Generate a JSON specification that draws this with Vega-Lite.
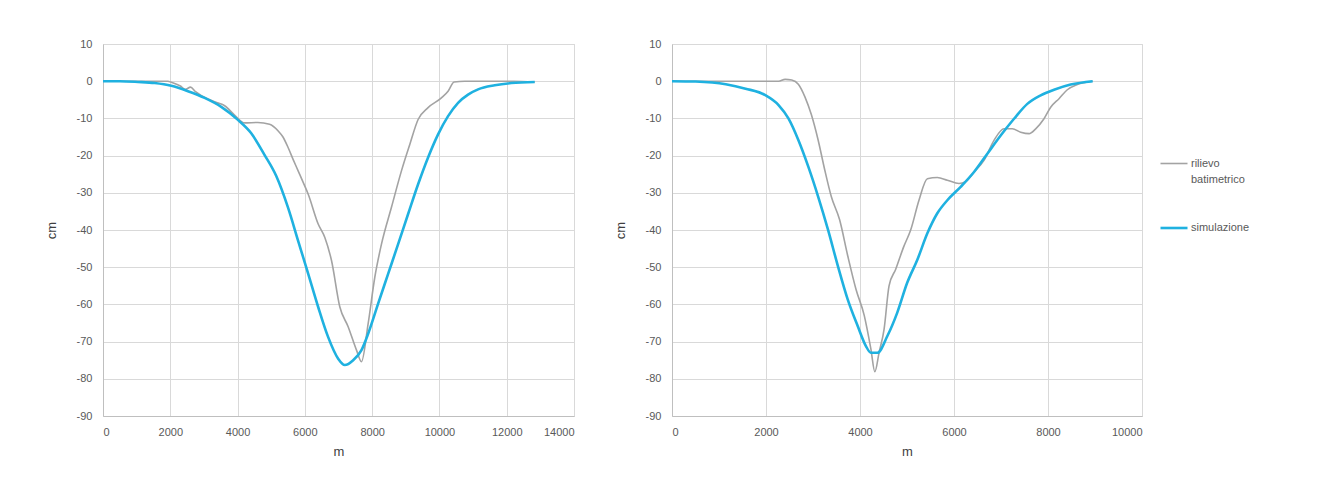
{
  "$schema": "https://vega.github.io/schema/vega-lite/v6.json",
  "background": "white",
  "padding": {"left": 44, "top": 37, "right": 5, "bottom": 5},
  "bounds": "flush",
  "spacing": 98,
  "config": {
    "font": "Liberation Sans",
    "view": {"stroke": "#d9d9d9", "strokeWidth": 1},
    "axis": {
      "labelColor": "#595959",
      "titleColor": "#404040",
      "labelFontSize": 11,
      "titleFontSize": 13,
      "titleFontWeight": "normal",
      "gridColor": "#d9d9d9",
      "domainColor": "#bfbfbf",
      "ticks": false
    },
    "legend": {"labelFontSize": 11, "labelColor": "#595959"}
  },
  "datasets": {
    "left": [
      {"series": "rilievo batimetrico", "x": 0, "y": 0},
      {"series": "rilievo batimetrico", "x": 500, "y": 0},
      {"series": "rilievo batimetrico", "x": 1000, "y": 0},
      {"series": "rilievo batimetrico", "x": 1500, "y": 0},
      {"series": "rilievo batimetrico", "x": 1930, "y": 0},
      {"series": "rilievo batimetrico", "x": 2030, "y": -0.3},
      {"series": "rilievo batimetrico", "x": 2300, "y": -1.3},
      {"series": "rilievo batimetrico", "x": 2450, "y": -2.2},
      {"series": "rilievo batimetrico", "x": 2600, "y": -1.6},
      {"series": "rilievo batimetrico", "x": 2750, "y": -2.8},
      {"series": "rilievo batimetrico", "x": 3120, "y": -4.8},
      {"series": "rilievo batimetrico", "x": 3400, "y": -5.8},
      {"series": "rilievo batimetrico", "x": 3615, "y": -6.6},
      {"series": "rilievo batimetrico", "x": 3910, "y": -9.1},
      {"series": "rilievo batimetrico", "x": 4210, "y": -11.2},
      {"series": "rilievo batimetrico", "x": 4600, "y": -11.1},
      {"series": "rilievo batimetrico", "x": 4950, "y": -11.6},
      {"series": "rilievo batimetrico", "x": 5208, "y": -13.4},
      {"series": "rilievo batimetrico", "x": 5350, "y": -15},
      {"series": "rilievo batimetrico", "x": 5505, "y": -17.9},
      {"series": "rilievo batimetrico", "x": 5650, "y": -21},
      {"series": "rilievo batimetrico", "x": 5800, "y": -24.1},
      {"series": "rilievo batimetrico", "x": 5950, "y": -27.2},
      {"series": "rilievo batimetrico", "x": 6100, "y": -30.4},
      {"series": "rilievo batimetrico", "x": 6396, "y": -38.4},
      {"series": "rilievo batimetrico", "x": 6594, "y": -42},
      {"series": "rilievo batimetrico", "x": 6792, "y": -48.2},
      {"series": "rilievo batimetrico", "x": 7040, "y": -60.7},
      {"series": "rilievo batimetrico", "x": 7287, "y": -66},
      {"series": "rilievo batimetrico", "x": 7535, "y": -72.3},
      {"series": "rilievo batimetrico", "x": 7683, "y": -75.4},
      {"series": "rilievo batimetrico", "x": 7881, "y": -65.2},
      {"series": "rilievo batimetrico", "x": 8079, "y": -52.7},
      {"series": "rilievo batimetrico", "x": 8277, "y": -43.8},
      {"series": "rilievo batimetrico", "x": 8574, "y": -33.9},
      {"series": "rilievo batimetrico", "x": 8871, "y": -24.1},
      {"series": "rilievo batimetrico", "x": 9119, "y": -17},
      {"series": "rilievo batimetrico", "x": 9366, "y": -10.3},
      {"series": "rilievo batimetrico", "x": 9663, "y": -7.1},
      {"series": "rilievo batimetrico", "x": 10059, "y": -4.5},
      {"series": "rilievo batimetrico", "x": 10257, "y": -2.7},
      {"series": "rilievo batimetrico", "x": 10436, "y": -0.2},
      {"series": "rilievo batimetrico", "x": 10752, "y": 0},
      {"series": "rilievo batimetrico", "x": 11500, "y": 0},
      {"series": "rilievo batimetrico", "x": 12200, "y": 0},
      {"series": "rilievo batimetrico", "x": 12832, "y": -0.2},
      {"series": "simulazione", "x": 0, "y": 0},
      {"series": "simulazione", "x": 500, "y": 0},
      {"series": "simulazione", "x": 1040, "y": -0.2},
      {"series": "simulazione", "x": 1535, "y": -0.5},
      {"series": "simulazione", "x": 2030, "y": -1.25},
      {"series": "simulazione", "x": 2525, "y": -2.7},
      {"series": "simulazione", "x": 3020, "y": -4.5},
      {"series": "simulazione", "x": 3515, "y": -6.9},
      {"series": "simulazione", "x": 4010, "y": -10.4},
      {"series": "simulazione", "x": 4406, "y": -14},
      {"series": "simulazione", "x": 4800, "y": -19.8},
      {"series": "simulazione", "x": 5150, "y": -25.5},
      {"series": "simulazione", "x": 5500, "y": -34},
      {"series": "simulazione", "x": 5800, "y": -42.9},
      {"series": "simulazione", "x": 6100, "y": -51.8},
      {"series": "simulazione", "x": 6396, "y": -60.7},
      {"series": "simulazione", "x": 6693, "y": -68.8},
      {"series": "simulazione", "x": 6990, "y": -74.6},
      {"series": "simulazione", "x": 7188, "y": -76.3},
      {"series": "simulazione", "x": 7436, "y": -75},
      {"series": "simulazione", "x": 7683, "y": -72.3},
      {"series": "simulazione", "x": 7881, "y": -67.9},
      {"series": "simulazione", "x": 8178, "y": -59.8},
      {"series": "simulazione", "x": 8475, "y": -51.8},
      {"series": "simulazione", "x": 8772, "y": -43.8},
      {"series": "simulazione", "x": 9069, "y": -35.7},
      {"series": "simulazione", "x": 9366, "y": -27.7},
      {"series": "simulazione", "x": 9663, "y": -20.5},
      {"series": "simulazione", "x": 9960, "y": -14.3},
      {"series": "simulazione", "x": 10257, "y": -9.4},
      {"series": "simulazione", "x": 10554, "y": -5.8},
      {"series": "simulazione", "x": 10851, "y": -3.6},
      {"series": "simulazione", "x": 11149, "y": -2.2},
      {"series": "simulazione", "x": 11644, "y": -1.1},
      {"series": "simulazione", "x": 12139, "y": -0.5},
      {"series": "simulazione", "x": 12832, "y": -0.2}
    ],
    "right": [
      {"series": "rilievo batimetrico", "x": 0, "y": 0},
      {"series": "rilievo batimetrico", "x": 1000, "y": 0},
      {"series": "rilievo batimetrico", "x": 2000, "y": 0},
      {"series": "rilievo batimetrico", "x": 2267, "y": 0},
      {"series": "rilievo batimetrico", "x": 2407, "y": 0.5},
      {"series": "rilievo batimetrico", "x": 2547, "y": 0.3},
      {"series": "rilievo batimetrico", "x": 2688, "y": -0.8},
      {"series": "rilievo batimetrico", "x": 2828, "y": -4.2},
      {"series": "rilievo batimetrico", "x": 2968, "y": -9.1},
      {"series": "rilievo batimetrico", "x": 3109, "y": -15.8},
      {"series": "rilievo batimetrico", "x": 3249, "y": -23.8},
      {"series": "rilievo batimetrico", "x": 3389, "y": -31},
      {"series": "rilievo batimetrico", "x": 3565, "y": -37.2},
      {"series": "rilievo batimetrico", "x": 3740, "y": -47},
      {"series": "rilievo batimetrico", "x": 3916, "y": -56},
      {"series": "rilievo batimetrico", "x": 4091, "y": -63},
      {"series": "rilievo batimetrico", "x": 4232, "y": -72},
      {"series": "rilievo batimetrico", "x": 4316, "y": -78.1},
      {"series": "rilievo batimetrico", "x": 4407, "y": -72.9},
      {"series": "rilievo batimetrico", "x": 4512, "y": -66.7},
      {"series": "rilievo batimetrico", "x": 4618, "y": -55},
      {"series": "rilievo batimetrico", "x": 4758, "y": -50.6},
      {"series": "rilievo batimetrico", "x": 4933, "y": -44.4},
      {"series": "rilievo batimetrico", "x": 5078, "y": -40},
      {"series": "rilievo batimetrico", "x": 5255, "y": -32},
      {"series": "rilievo batimetrico", "x": 5433, "y": -26.2},
      {"series": "rilievo batimetrico", "x": 5645, "y": -25.9},
      {"series": "rilievo batimetrico", "x": 5858, "y": -26.6},
      {"series": "rilievo batimetrico", "x": 6106, "y": -27.5},
      {"series": "rilievo batimetrico", "x": 6248, "y": -27},
      {"series": "rilievo batimetrico", "x": 6426, "y": -24.4},
      {"series": "rilievo batimetrico", "x": 6638, "y": -21.3},
      {"series": "rilievo batimetrico", "x": 6851, "y": -15.9},
      {"series": "rilievo batimetrico", "x": 7064, "y": -12.8},
      {"series": "rilievo batimetrico", "x": 7241, "y": -12.8},
      {"series": "rilievo batimetrico", "x": 7418, "y": -13.7},
      {"series": "rilievo batimetrico", "x": 7596, "y": -14.1},
      {"series": "rilievo batimetrico", "x": 7738, "y": -12.8},
      {"series": "rilievo batimetrico", "x": 7915, "y": -10.1},
      {"series": "rilievo batimetrico", "x": 8057, "y": -7},
      {"series": "rilievo batimetrico", "x": 8234, "y": -4.7},
      {"series": "rilievo batimetrico", "x": 8411, "y": -2.3},
      {"series": "rilievo batimetrico", "x": 8624, "y": -0.9},
      {"series": "rilievo batimetrico", "x": 8950, "y": 0},
      {"series": "simulazione", "x": 0, "y": 0},
      {"series": "simulazione", "x": 500, "y": -0.1},
      {"series": "simulazione", "x": 1144, "y": -0.8},
      {"series": "simulazione", "x": 1565, "y": -2},
      {"series": "simulazione", "x": 1986, "y": -3.75},
      {"series": "simulazione", "x": 2267, "y": -6.4},
      {"series": "simulazione", "x": 2477, "y": -10},
      {"series": "simulazione", "x": 2688, "y": -15.8},
      {"series": "simulazione", "x": 2898, "y": -22.9},
      {"series": "simulazione", "x": 3109, "y": -31},
      {"series": "simulazione", "x": 3319, "y": -39.9},
      {"series": "simulazione", "x": 3530, "y": -49.7},
      {"series": "simulazione", "x": 3740, "y": -58.7},
      {"series": "simulazione", "x": 3951, "y": -65.8},
      {"series": "simulazione", "x": 4126, "y": -71.2},
      {"series": "simulazione", "x": 4232, "y": -73},
      {"series": "simulazione", "x": 4372, "y": -73},
      {"series": "simulazione", "x": 4582, "y": -68.5},
      {"series": "simulazione", "x": 4793, "y": -62.2},
      {"series": "simulazione", "x": 5004, "y": -54.2},
      {"series": "simulazione", "x": 5220, "y": -48},
      {"series": "simulazione", "x": 5433, "y": -40.9},
      {"series": "simulazione", "x": 5645, "y": -35.5},
      {"series": "simulazione", "x": 5858, "y": -32},
      {"series": "simulazione", "x": 6142, "y": -28.4},
      {"series": "simulazione", "x": 6426, "y": -24.4},
      {"series": "simulazione", "x": 6709, "y": -19.5},
      {"series": "simulazione", "x": 6993, "y": -14.6},
      {"series": "simulazione", "x": 7277, "y": -10.1},
      {"series": "simulazione", "x": 7560, "y": -6.1},
      {"series": "simulazione", "x": 7844, "y": -3.8},
      {"series": "simulazione", "x": 8128, "y": -2.3},
      {"series": "simulazione", "x": 8482, "y": -0.9},
      {"series": "simulazione", "x": 8950, "y": 0}
    ]
  },
  "resolve": {"scale": {"color": "independent", "strokeWidth": "independent"}, "legend": {"color": "independent", "strokeWidth": "independent"}},
  "hconcat": [
    {
      "width": 471,
      "height": 372,
      "data": {"name": "left"},
      "mark": {"type": "line", "interpolate": "monotone"},
      "encoding": {
        "x": {
          "field": "x", "type": "quantitative",
          "scale": {"domain": [0, 14000], "nice": false},
          "axis": {"values": [0, 2000, 4000, 6000, 8000, 10000, 12000, 14000], "labelExpr": "toString(datum.value)", "title": "m", "labelPadding": 10, "titlePadding": 8}
        },
        "y": {
          "field": "y", "type": "quantitative",
          "scale": {"domain": [-90, 10], "nice": false},
          "axis": {"values": [-90, -80, -70, -60, -50, -40, -30, -20, -10, 0, 10], "labelExpr": "toString(datum.value)", "title": "cm", "labelPadding": 11, "titlePadding": 18}
        },
        "color": {
          "field": "series", "type": "nominal",
          "scale": {"domain": ["rilievo batimetrico", "simulazione"], "range": ["#a3a3a3", "#1fb1e0"]},
          "legend": null
        },
        "strokeWidth": {
          "field": "series", "type": "nominal",
          "scale": {"domain": ["rilievo batimetrico", "simulazione"], "range": [1.6, 2.6]},
          "legend": null
        }
      }
    },
    {
      "width": 470,
      "height": 372,
      "data": {"name": "right"},
      "mark": {"type": "line", "interpolate": "monotone"},
      "encoding": {
        "x": {
          "field": "x", "type": "quantitative",
          "scale": {"domain": [0, 10000], "nice": false},
          "axis": {"values": [0, 2000, 4000, 6000, 8000, 10000], "labelExpr": "toString(datum.value)", "title": "m", "labelPadding": 10, "titlePadding": 8}
        },
        "y": {
          "field": "y", "type": "quantitative",
          "scale": {"domain": [-90, 10], "nice": false},
          "axis": {"values": [-90, -80, -70, -60, -50, -40, -30, -20, -10, 0, 10], "labelExpr": "toString(datum.value)", "title": "cm", "labelPadding": 11, "titlePadding": 18}
        },
        "color": {
          "field": "series", "type": "nominal",
          "scale": {"domain": ["rilievo batimetrico", "simulazione"], "range": ["#a3a3a3", "#1fb1e0"]},
          "legend": {
            "title": null,
            "orient": "none",
            "legendX": 487,
            "legendY": 105,
            "symbolType": "stroke",
            "symbolSize": 729,
            "symbolStrokeWidth": 2,
            "rowPadding": 28,
            "labelOffset": 2,
            "labelExpr": "datum.label == 'rilievo batimetrico' ? ['rilievo', 'batimetrico'] : datum.label",
            "encode": {"labels": {"update": {"lineHeight": {"value": 16}}}}
          }
        },
        "strokeWidth": {
          "field": "series", "type": "nominal",
          "scale": {"domain": ["rilievo batimetrico", "simulazione"], "range": [1.6, 2.6]},
          "legend": null
        }
      }
    }
  ]
}
